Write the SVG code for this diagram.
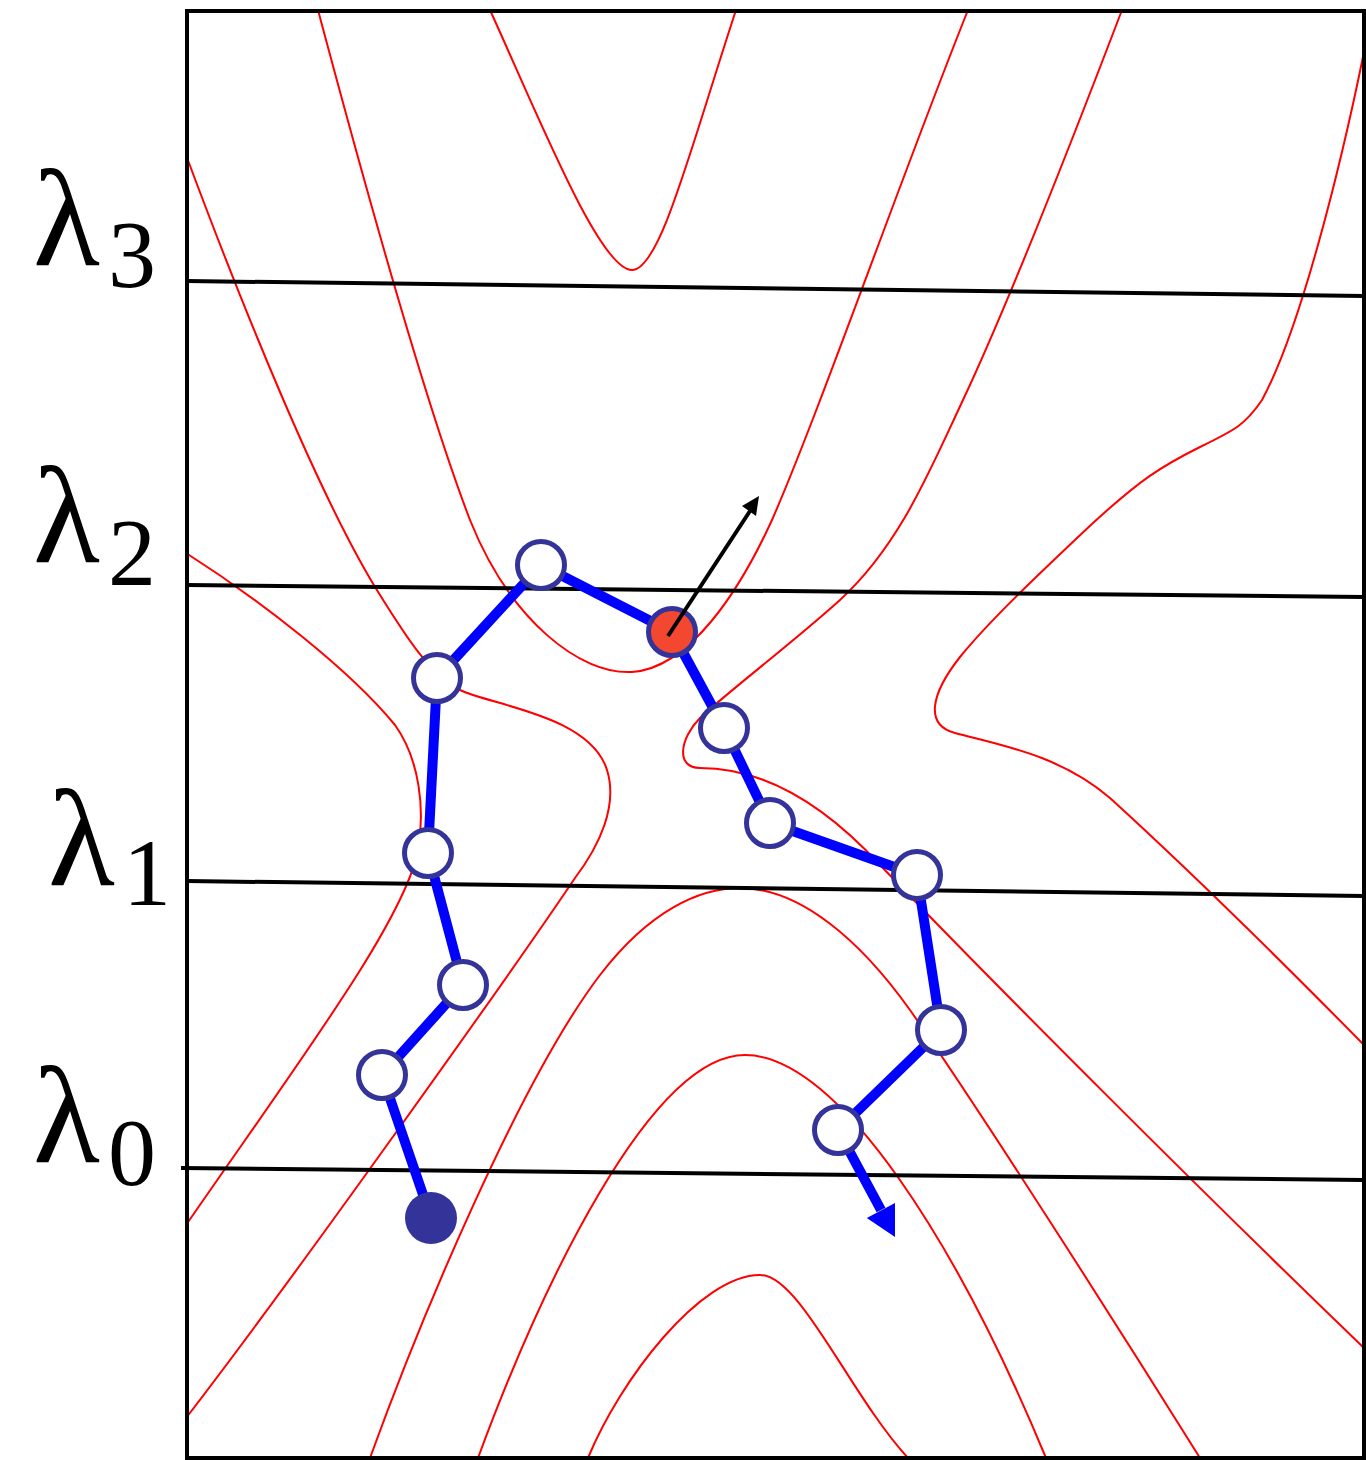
<svg xmlns="http://www.w3.org/2000/svg" width="1366" height="1460" viewBox="0 0 1366 1460">
<defs>
<style>
.frame{fill:none;stroke:#000;stroke-width:4}
.lvl{stroke:#000;stroke-width:4;fill:none}
.ct{fill:none;stroke:#ff0000;stroke-width:2}
.edge{fill:none;stroke:#0000ff;stroke-width:10;stroke-linecap:butt;stroke-linejoin:round}
.node{fill:#fff;stroke:#333399;stroke-width:5}
.lam{font-family:"Liberation Serif","DejaVu Serif",serif;font-size:138px;fill:#000}
.sub{font-family:"Liberation Serif","DejaVu Serif",serif;font-size:96px;fill:#000}
</style>
</defs>
<rect width="1366" height="1460" fill="#fff"/>

<g id="contours">
<path class="ct" d="M490,10 C540,120 600,270 632,270 C660,270 690,150 736,10"/>
<path class="ct" d="M318,10 C350,130 420,390 470,520 C510,620 580,675 632,672 C690,668 740,590 772,520 C820,410 900,180 968,10"/>
<path class="ct" d="M186,155 C240,300 320,500 380,595 C405,635 430,675 460,690 C490,705 590,715 607,770 C618,805 600,845 575,878 C520,960 300,1270 186,1418"/>
<path class="ct" d="M186,553 C260,600 350,670 395,725 C420,760 425,810 418,850 C405,920 300,1060 186,1225"/>
<path class="ct" d="M370,1458 C420,1320 520,1080 600,975 C650,910 700,888 740,888 C800,888 860,940 910,1010 C980,1110 1120,1330 1200,1458"/>
<path class="ct" d="M478,1458 C540,1290 650,1055 745,1055 C840,1055 960,1250 1046,1458"/>
<path class="ct" d="M588,1458 C620,1380 700,1275 760,1275 C800,1275 850,1395 908,1458"/>
<path class="ct" d="M1122,10 C1080,120 1010,300 963,400 C930,470 900,545 840,600 C790,645 730,690 700,718 C680,738 675,768 700,768 C760,768 820,800 880,865 C1000,990 1200,1190 1364,1348"/>
<path class="ct" d="M1364,52 C1340,170 1300,330 1262,400 C1245,425 1235,430 1200,447 C1160,467 1140,480 1093,523 C1040,573 990,620 960,657 C930,695 925,725 955,733 C1000,745 1060,755 1110,798 C1200,880 1300,980 1364,1045"/>
</g>

<g id="levels">
<line class="lvl" x1="187" y1="281" x2="1364" y2="296"/>
<line class="lvl" x1="187" y1="585" x2="1364" y2="597"/>
<line class="lvl" x1="187" y1="881" x2="1364" y2="896"/>
<line class="lvl" x1="181" y1="1168" x2="1364" y2="1180"/>
</g>

<rect class="frame" x="187" y="11" width="1177" height="1447"/>

<g id="labels">
<text class="lam" x="33" y="265">λ</text><text class="sub" x="108" y="287">3</text>
<text class="lam" x="33" y="562">λ</text><text class="sub" x="108" y="585">2</text>
<text class="lam" x="48" y="885">λ</text><text class="sub" x="123" y="905">1</text>
<text class="lam" x="33" y="1162">λ</text><text class="sub" x="108" y="1185">0</text>
</g>

<g id="connectors">
<polyline class="edge" points="431,1218 382,1075 463,985 428,853 437,678 541,565 672,632 724,728 770,823 917,875 941,1030 838,1130 881,1210"/>
<polygon points="895,1237 866.8,1218 895,1203" fill="#0000ff"/>
</g>

<g id="node-start"><circle cx="431" cy="1218" r="26" fill="#333399"/></g>
<g id="node-2"><circle class="node" cx="382" cy="1075" r="23.5"/></g>
<g id="node-3"><circle class="node" cx="463" cy="985" r="23.5"/></g>
<g id="node-4"><circle class="node" cx="428" cy="853" r="23.5"/></g>
<g id="node-5"><circle class="node" cx="437" cy="678" r="23.5"/></g>
<g id="node-6"><circle class="node" cx="541" cy="565" r="23.5"/></g>
<g id="node-current"><circle cx="672" cy="632" r="23.5" fill="#f4472f" stroke="#333399" stroke-width="5"/></g>
<g id="node-8"><circle class="node" cx="724" cy="728" r="23.5"/></g>
<g id="node-9"><circle class="node" cx="770" cy="823" r="23.5"/></g>
<g id="node-10"><circle class="node" cx="917" cy="875" r="23.5"/></g>
<g id="node-11"><circle class="node" cx="941" cy="1030" r="23.5"/></g>
<g id="node-12"><circle class="node" cx="838" cy="1130" r="23.5"/></g>

<g id="gradient-arrow">
<line x1="668" y1="636" x2="750" y2="511" stroke="#000" stroke-width="4"/>
<polygon points="759,496 742,506 756,516" fill="#000"/>
</g>
</svg>
